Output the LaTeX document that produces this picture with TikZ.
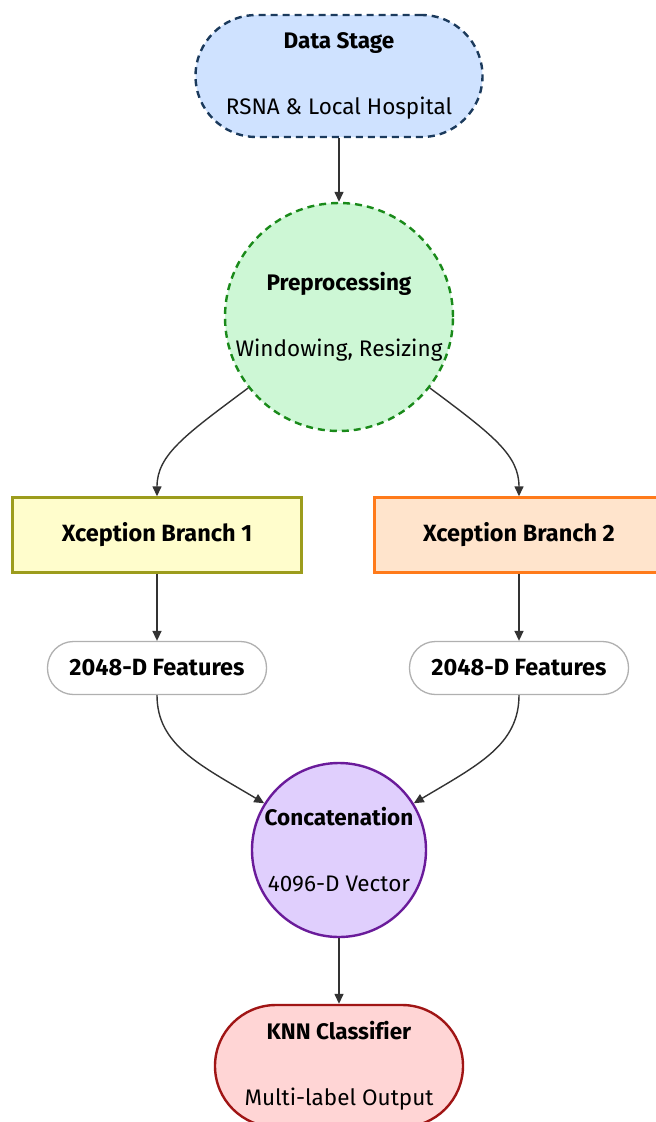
\documentclass[tikz,border=0pt]{standalone}
\usepackage{fontspec}
\setmainfont[Ligatures=NoCommon]{Fira Sans}
\usetikzlibrary{arrows.meta}
\definecolor{dataFill}{HTML}{CFE2FF}
\definecolor{dataLine}{HTML}{1B3A5C}
\definecolor{preFill}{HTML}{CDF7D5}
\definecolor{preLine}{HTML}{1A8A1A}
\definecolor{xaFill}{HTML}{FFFDCC}
\definecolor{xaLine}{HTML}{9C9C1C}
\definecolor{xbFill}{HTML}{FFE4CC}
\definecolor{xbLine}{HTML}{FF7A1A}
\definecolor{featLine}{HTML}{B0B0B0}
\definecolor{catFill}{HTML}{E0CFFD}
\definecolor{catLine}{HTML}{6A1B9A}
\definecolor{knnFill}{HTML}{FFD5D5}
\definecolor{knnLine}{HTML}{A01515}
\definecolor{arrowGray}{HTML}{333333}
\tikzset{
  base/.style={font=\fontsize{22.5}{66}\selectfont, align=center, inner sep=0pt, text=black},
  stadium/.style={base, rectangle, rounded corners=61pt, minimum height=122pt, line width=2.4pt},
  roundnode/.style={base, circle, line width=2.4pt},
  boxnode/.style={base, rectangle, minimum width=289pt, minimum height=75pt, line width=2.4pt, font=\fontsize{23.5}{28}\selectfont\bfseries},
  pill/.style={base, rectangle, rounded corners=26pt, minimum width=219pt, minimum height=53pt, draw=featLine, fill=white, line width=1.3pt, font=\fontsize{23.5}{28}\selectfont\bfseries},
  dashline/.style={dash pattern=on 7pt off 5pt},
  flow/.style={draw=arrowGray, line width=1.4pt, -{Triangle[length=10pt,width=9pt]}},
}
\begin{document}
\begin{tikzpicture}[x=1pt,y=-1pt]
\useasboundingbox (0,0) rectangle (656,1122);
\clip (0,0) rectangle (656,1122);
\fill[white] (0,0) rectangle (656,1122);

\node[stadium, dashline, draw=dataLine, fill=dataFill, minimum width=287pt] (data) at (339,76)
  {\textbf{Data Stage}\\RSNA \& Local Hospital};
\node[roundnode, dashline, draw=preLine, fill=preFill, minimum size=228pt] (pre) at (339,317)
  {\textbf{Preprocessing}\\Windowing, Resizing};
\node[boxnode, draw=xaLine, fill=xaFill] (xa) at (157,535) {Xception Branch 1};
\node[boxnode, draw=xbLine, fill=xbFill] (xb) at (519,535) {Xception Branch 2};
\node[pill] (fa) at (157,668) {2048-D Features};
\node[pill] (fb) at (519,668) {2048-D Features};
\node[roundnode, draw=catLine, fill=catFill, minimum size=174pt] (cat) at (339,850)
  {\textbf{Concatenation}\\4096-D Vector};
\node[stadium, draw=knnLine, fill=knnFill, minimum width=248pt] (knn) at (339,1066)
  {\textbf{KNN Classifier}\\Multi-label Output};

\draw[flow] (data.south) -- (pre.north);
\draw[flow] (pre.218) .. controls (185,435) and (157,455) .. (xa.north);
\draw[flow] (pre.322) .. controls (493,435) and (519,455) .. (xb.north);
\draw[flow] (xa.south) -- (fa.north);
\draw[flow] (xb.south) -- (fb.north);
\draw[flow] (fa.south) .. controls (157,745) and (200,765) .. (cat.148);
\draw[flow] (fb.south) .. controls (519,745) and (478,765) .. (cat.32);
\draw[flow] (cat.south) -- (knn.north);
\end{tikzpicture}
\end{document}
